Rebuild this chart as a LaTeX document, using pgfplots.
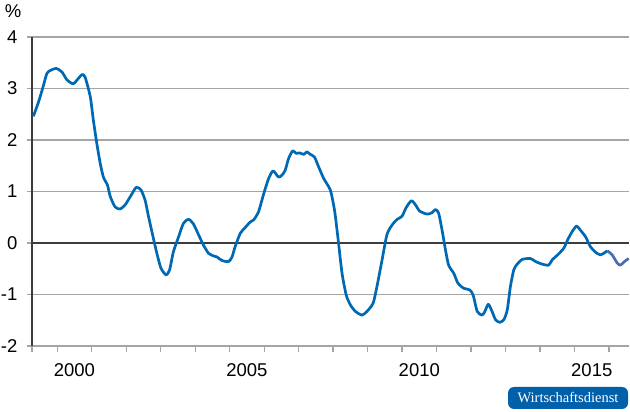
\documentclass[border=0pt]{standalone}
\usepackage{fontspec}
\setmainfont{Liberation Sans}
\newfontfamily\logofont{Liberation Serif}
\usepackage{pgfplots}
\pgfplotsset{compat=1.18}
\definecolor{lineblue}{RGB}{0,105,180}
\definecolor{fcblue}{RGB}{72,108,178}
\definecolor{gridgray}{RGB}{165,165,165}
\definecolor{axisdark}{RGB}{60,60,60}
\definecolor{logoblue}{RGB}{0,96,170}
\begin{document}
\begin{tikzpicture}[x=1bp,y=1bp]
\begin{axis}[
  at={(32bp,66bp)}, anchor=south west,
  scale only axis, width=597bp, height=309bp,
  xmin=1999.27, xmax=2016.58, ymin=-2, ymax=4,
  axis lines*=left,
  x axis line style={gridgray, line width=1.2bp, -},
  y axis line style={axisdark, line width=1.2bp, -},
  tick align=outside,
  ytick={-2,-1,0,1,2,3,4},
  yticklabels={-2,-1,0,1,2,3,4},
  ymajorgrids,
  grid style={gridgray, line width=1.2bp},
  ytick style={gridgray, line width=1.2bp},
  xtick style={gridgray, line width=1.2bp},
  major tick length=5.5bp,
  xtick={1999.27,2000,2001,2002,2003,2004,2005,2006,2007,2008,2009,2010,2011,2012,2013,2014,2015,2016},
  xticklabels={,,,,,,,,,,,,,,,,,,},
  extra x ticks={2000.5,2005.5,2010.5,2015.5},
  extra x tick labels={2000,2005,2010,2015},
  extra x tick style={major tick length=0pt},
  ticklabel style={font=\fontsize{18.5bp}{22bp}\selectfont, text=black},
  x tick label style={inner sep=0pt, anchor=north, yshift=-17bp},
  y tick label style={inner sep=0pt, anchor=east, xshift=-9bp},
  clip=false,
]
\addplot[axisdark, line width=1.3bp, forget plot] coordinates {(1999.27,0) (2016.58,0)};
\addplot[lineblue, line width=2.7bp, line join=round, smooth, tension=0.4] coordinates {
(1999.31,2.46) (1999.46,2.74) (1999.59,3.03) (1999.70,3.29) (1999.80,3.35) (1999.97,3.39)
(2000.14,3.32) (2000.28,3.17) (2000.46,3.09) (2000.57,3.16) (2000.72,3.27) (2000.81,3.22)
(2000.96,2.84) (2001.05,2.38) (2001.15,1.93) (2001.25,1.54) (2001.34,1.28) (2001.46,1.12)
(2001.54,0.90) (2001.68,0.70) (2001.83,0.66) (2001.97,0.74) (2002.12,0.90) (2002.29,1.08)
(2002.43,1.03) (2002.55,0.83) (2002.65,0.51) (2002.78,0.12) (2002.89,-0.20) (2003.01,-0.49)
(2003.16,-0.62) (2003.26,-0.52) (2003.37,-0.17) (2003.52,0.12) (2003.66,0.38) (2003.81,0.46)
(2003.95,0.37) (2004.10,0.16) (2004.24,-0.04) (2004.39,-0.20) (2004.53,-0.25) (2004.63,-0.27)
(2004.78,-0.34) (2004.97,-0.36) (2005.07,-0.27) (2005.16,-0.07) (2005.31,0.19) (2005.45,0.30)
(2005.60,0.41) (2005.70,0.45) (2005.84,0.61) (2005.99,0.96) (2006.13,1.25) (2006.26,1.40)
(2006.42,1.28) (2006.52,1.32) (2006.61,1.41) (2006.71,1.64) (2006.83,1.79) (2006.93,1.74)
(2007.03,1.75) (2007.15,1.72) (2007.24,1.77) (2007.34,1.72) (2007.46,1.67) (2007.58,1.48)
(2007.73,1.25) (2007.92,1.03) (2008.02,0.72) (2008.07,0.50) (2008.16,-0.01) (2008.26,-0.59)
(2008.38,-1.01) (2008.50,-1.20) (2008.65,-1.33) (2008.84,-1.40) (2008.98,-1.33) (2009.16,-1.17)
(2009.27,-0.85) (2009.42,-0.33) (2009.56,0.16) (2009.71,0.35) (2009.86,0.46) (2010.00,0.52)
(2010.12,0.69) (2010.27,0.82) (2010.39,0.74) (2010.51,0.62) (2010.73,0.56) (2010.87,0.59)
(2010.97,0.65) (2011.06,0.58) (2011.16,0.25) (2011.26,-0.14) (2011.35,-0.43) (2011.50,-0.59)
(2011.62,-0.78) (2011.79,-0.88) (2011.96,-0.91) (2012.06,-1.01) (2012.18,-1.33) (2012.32,-1.40)
(2012.40,-1.33) (2012.50,-1.19) (2012.61,-1.33) (2012.71,-1.49) (2012.83,-1.54) (2012.95,-1.49)
(2013.05,-1.30) (2013.14,-0.85) (2013.24,-0.52) (2013.34,-0.41) (2013.48,-0.32) (2013.72,-0.30)
(2013.87,-0.36) (2014.06,-0.41) (2014.25,-0.43) (2014.35,-0.33) (2014.51,-0.23) (2014.69,-0.10)
(2014.80,0.06) (2014.93,0.22) (2015.06,0.33) (2015.17,0.25) (2015.32,0.12) (2015.46,-0.07)
(2015.61,-0.18) (2015.75,-0.23) (2015.87,-0.19) (2015.95,-0.15)
};
\addplot[fcblue, line width=2.7bp, line join=round, smooth, tension=0.4] coordinates {
(2015.95,-0.15) (2016.09,-0.23) (2016.24,-0.39) (2016.33,-0.43) (2016.45,-0.36) (2016.57,-0.30)
};
\end{axis}
\node[font=\fontsize{18.5bp}{22bp}\selectfont] at (13bp,401bp) {\%};
\fill[logoblue, rounded corners=6bp] (508bp,3bp) rectangle (628bp,25bp);
\node[white, inner sep=0pt] at (568bp,14bp) {\logofont\fontsize{14.5bp}{16bp}\selectfont Wirtschaftsdienst};
\pgfresetboundingbox
\path (0,0) rectangle (630bp,412bp);
\end{tikzpicture}
\end{document}
